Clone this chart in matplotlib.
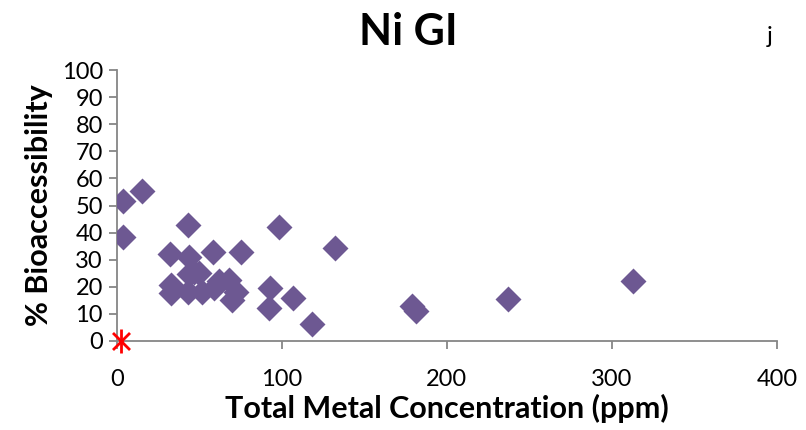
import matplotlib.pyplot as plt

# Ni gastric (GI) bioaccessibility vs total Ni in soil
total_ppm = [3.6, 15, 4, 43, 32, 44, 58, 75, 98, 132,
             33, 33, 44, 47, 50, 43, 51.5, 59, 62, 68,
             70, 72, 93, 92, 107, 118, 179, 181, 237, 313]
bioacc_pct = [51.7, 55.3, 38.4, 43, 32, 31, 33, 33, 42, 34.3,
              20.7, 17.7, 24.7, 25.5, 25, 18, 18, 19.5, 22, 22.5,
              15, 18, 19.5, 12, 16, 6.3, 12.8, 11, 15.5, 22.1]

# detection-limit / reference point
ref_x = [2.5]
ref_y = [0]

plt.rcParams['font.family'] = ['Lato', 'DejaVu Sans']

fig = plt.figure(figsize=(8.06, 4.3), dpi=100)
ax = fig.add_axes([0.145, 0.207, 0.819, 0.63])

ax.scatter(total_ppm, bioacc_pct, marker='D', s=175, color='#6D5892', linewidths=0, zorder=3)
# excel-style asterisk: an X with a vertical bar through it
ax.scatter(ref_x, ref_y, marker='x', s=150, color='#FF0000', linewidths=2, zorder=4, clip_on=False)
ax.scatter(ref_x, ref_y, marker='|', s=300, color='#FF0000', linewidths=2, zorder=4, clip_on=False)

ax.set_xlim(0, 400)
ax.set_ylim(0, 100)
ax.set_xticks([0, 100, 200, 300, 400])
ax.set_yticks(range(0, 101, 10))

for side in ['top', 'right']:
    ax.spines[side].set_visible(False)
for side in ['left', 'bottom']:
    ax.spines[side].set_color('#868686')
    ax.spines[side].set_linewidth(1.3)
ax.tick_params(axis='both', direction='out', length=6, width=1.3, color='#868686',
               labelsize=17, pad=4)
ax.tick_params(axis='x', pad=14)

ax.set_xlabel('Total Metal Concentration (ppm)', fontsize=22, fontweight='bold', labelpad=3)
ax.set_ylabel('% Bioaccessibility', fontsize=22, fontweight='bold', labelpad=6)
fig.text(0.506, 0.926, 'Ni GI', fontsize=31, fontweight='bold', ha='center', va='center')
fig.text(0.955, 0.915, 'j', fontsize=17, ha='center', va='center')

plt.savefig('out.png', dpi=100)
